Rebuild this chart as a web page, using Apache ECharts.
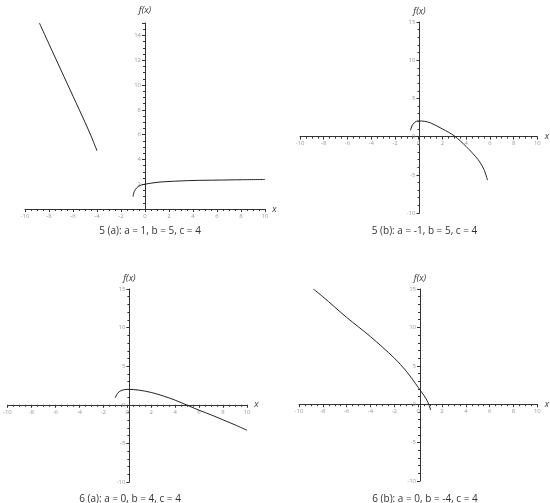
<!DOCTYPE html><html><head><meta charset="utf-8"><script src="https://cdn.jsdelivr.net/npm/echarts@6/dist/echarts.min.js"></script>
<style>body{margin:0}#c{width:550px;height:503px}</style></head><body><div id="c"></div><script>
const captions=["5 (a): a = 1, b = 5, c = 4","5 (b): a = -1, b = 5, c = 4","6 (a): a = 0, b = 4, c = 4","6 (b): a = 0, b = -4, c = 4"];
const s5aLeft=[[-8.8,15],[-8,13.3],[-7,11.2],[-6,9.1],[-5,7],[-4.5,5.9],[-4,4.7]];
const s5aRight=[[-1,1],[-0.9,1.4],[-0.7,1.7],[-0.4,1.9],[0,2.0],[1,2.15],[2,2.22],[4,2.3],[6,2.33],[8,2.36],[10,2.38]];
const s5b=[[-0.7,0.8],[-0.5,1.6],[-0.2,2.0],[0,2.05],[0.5,2.0],[1,1.8],[2,1.0],[3,0.1],[4,-1.3],[5,-3.0],[5.5,-4.3],[5.8,-5.7]];
const s6a=[[-1,0.9],[-0.8,1.5],[-0.5,1.85],[0,2.0],[1,1.9],[2,1.6],[3,1.15],[4,0.6],[5,-0.05],[6,-0.7],[7,-1.3],[8,-1.95],[9,-2.6],[10,-3.3]];
const s6b=[[-8.8,15],[-8,14],[-6,11.3],[-4,8.8],[-2,6],[-1,4.3],[0,2.2],[0.5,1.1],[0.8,0.3],[1.05,-0.75]];
const grids=[{left:25,width:240,top:23,height:186},{left:300,width:239,top:22,height:191},{left:3,width:244,top:289,height:193},{left:299,width:242,top:289,height:192}];
const yr=[[0,15,2],[-10,15,5],[-10,15,5],[-10,15,5]];
const lab={color:'#999',fontSize:6,fontFamily:'Open Sans'};
const ax={lineStyle:{color:'#333',width:1}};
const opt={animation:false,grid:grids.map(g=>Object.assign({},g)),xAxis:[],yAxis:[],series:[],title:[]};
grids.forEach((g,i)=>{
 const yMin=yr[i][0],yMax=yr[i][1];
 const xOff=-g.height*(0-yMin)/(yMax-yMin);
 opt.xAxis.push({type:'value',gridIndex:i,min:-10,max:10,interval:2,offset:xOff,axisLine:Object.assign({onZero:false},ax),
  axisTick:{show:true,length:3,lineStyle:{color:'#333'}},minorTick:{show:true,splitNumber:4,length:2,lineStyle:{color:'#333'}},
  splitLine:{show:false},axisLabel:Object.assign({margin:4},lab),name:'x',nameGap:2,
  nameTextStyle:{fontStyle:'italic',fontSize:9,color:'#333',fontFamily:'Open Sans'}});
 opt.yAxis.push({type:'value',gridIndex:i,min:yMin,max:yMax,interval:yr[i][2],offset:-g.width/2,axisLine:Object.assign({onZero:false},ax),
  axisTick:{show:true,length:3,lineStyle:{color:'#333'}},minorTick:{show:true,splitNumber:i==0?4:5,length:2,lineStyle:{color:'#333'}},
  splitLine:{show:false},axisLabel:Object.assign({margin:4,showMinLabel:i!=0,showMaxLabel:i!=0},lab),name:'f(x)',nameGap:i==0?8:6,
  nameTextStyle:{fontStyle:'italic',fontSize:9,color:'#333',fontFamily:'Open Sans'}});
 opt.title.push({text:captions[i],left:g.left+g.width/2,textAlign:'center',top:i<2?221:489,
  textStyle:{fontSize:10,fontWeight:'normal',color:'#333',fontFamily:'Open Sans'}});
});
const ser=[[s5aLeft,0],[s5aRight,0],[s5b,1],[s6a,2],[s6b,3]];
ser.forEach(([d,i])=>opt.series.push({type:'line',xAxisIndex:i,yAxisIndex:i,data:d,smooth:0.3,symbol:'none',lineStyle:{color:'#222',width:1}}));
echarts.init(document.getElementById('c')).setOption(opt);
</script></body></html>
